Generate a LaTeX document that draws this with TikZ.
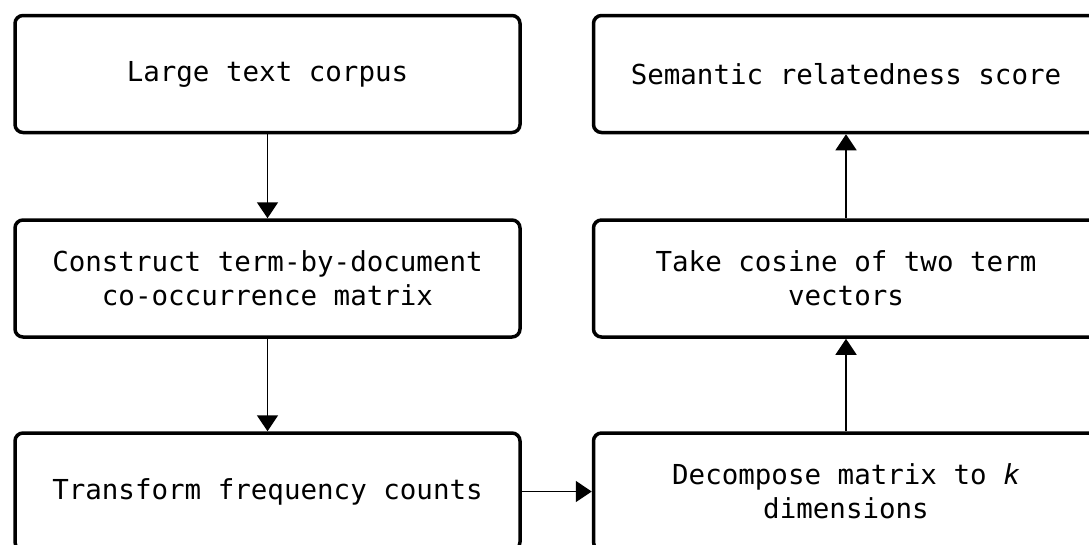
\documentclass[tikz,border=0pt]{standalone}
\usepackage{fontspec}
\setmonofont{DejaVu Sans Mono}
\usetikzlibrary{arrows.meta}
\begin{document}
\begin{tikzpicture}[x=1pt,y=1pt,
  stepbox/.style={draw=black, line width=3.5pt, rounded corners=8pt,
    minimum width=505pt, minimum height=117pt, inner sep=0pt,
    align=center, font=\fontsize{27.5pt}{34pt}\selectfont\ttfamily},
  conn/.style={line width=1.5pt, -{Triangle[length=16pt,width=21pt]}}]
\useasboundingbox (0,0) rectangle (1089,-544);
\node[stepbox] (corpus) at (267.5,-74) {Large text corpus};
\node[stepbox] (construct) at (267.5,-278.5) {Construct term-by-document\\co-occurrence matrix};
\node[stepbox] (transform) at (267.5,-491.5) {Transform frequency counts};
\node[stepbox] (decompose) at (846,-491.5) {Decompose matrix to \textit{k}\\dimensions};
\node[stepbox] (cosine) at (846,-278.5) {Take cosine of two term\\vectors};
\node[stepbox] (score) at (846,-74) {Semantic relatedness score};
\draw[conn] (corpus) -- (construct);
\draw[conn] (construct) -- (transform);
\draw[conn] (transform) -- (decompose);
\draw[conn] (decompose) -- (cosine);
\draw[conn] (cosine) -- (score);
\end{tikzpicture}
\end{document}
